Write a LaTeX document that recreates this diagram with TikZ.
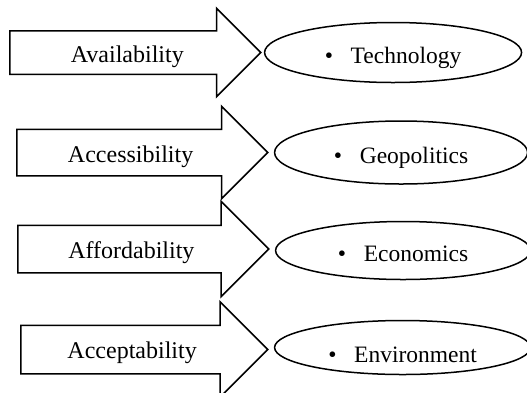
\documentclass[tikz,border=0pt]{standalone}
\usepackage{fontspec}
\setmainfont{Liberation Serif}
\usetikzlibrary{shapes.arrows,shapes.geometric,positioning}
\tikzset{
    % the four pillars, drawn as fat arrows
    pillar/.style={
           single arrow,
           draw=black, line width=1.5pt,
           single arrow tip angle=90,
           single arrow head extend=23pt,
           minimum height=251pt,
           inner sep=0pt,
           text height=32pt,
           text depth=13pt,
           font=\fontsize{24}{28}\selectfont},
    % the matching driver, in an ellipse
    driver/.style={
           ellipse,
           draw=black, line width=1.5pt,
           minimum width=256pt,
           minimum height=60pt,
           inner sep=0pt,
           text height=21pt,
           text depth=0pt,
           font=\fontsize{23.5}{28}\selectfont},
    pt/.style={x=1pt,y=-1pt}
}
\newcommand{\itembul}[1]{\textbullet\hspace{0.75em}#1}

\begin{document}
\begin{tikzpicture}[pt, node distance=5pt]
\useasboundingbox (0,0) rectangle (527,392);
 %arrows
\node[pillar, anchor=tail, single arrow head extend=22.5pt, text height=31pt, text depth=11pt] (avail) at (9,52.5) {\hspace*{6pt}Availability};
\node[pillar, anchor=tail] (access) at (16,152.5) {Accessibility};
\node[pillar, anchor=tail, single arrow head extend=24pt, text height=32pt, text depth=14pt] (afford) at (17,249) {Affordability};
\node[pillar, anchor=tail, minimum height=247pt, single arrow head extend=23.5pt, text height=32pt, text depth=15pt] (accept) at (20,349.5) {Acceptability};
 %ellipses
\node[driver, right=2pt of avail, minimum width=257pt] (tech) {\itembul{Technology}};
\node[driver, right=of access, minimum width=253pt, minimum height=63pt] (geo) {\itembul{Geopolitics}};
\node[driver, right=of afford, minimum width=255pt, minimum height=58pt, yshift=-1.5pt] (econ) {\itembul{Economics}};
\node[driver, right=of accept, minimum height=54pt, text height=29pt, yshift=2pt] (env) {\itembul{Environment}};
\end{tikzpicture}
\end{document}
